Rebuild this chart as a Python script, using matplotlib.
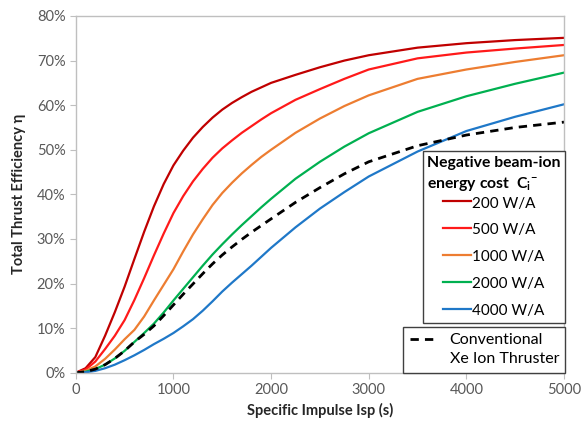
import matplotlib
matplotlib.use("Agg")
import matplotlib.pyplot as plt
from matplotlib.lines import Line2D
from matplotlib.ticker import FuncFormatter

plt.rcParams['font.family'] = ['Lato', 'DejaVu Sans']
plt.rcParams['mathtext.fontset'] = 'custom'
plt.rcParams['mathtext.rm'] = 'Lato'
plt.rcParams['mathtext.bf'] = 'Lato:bold'

# specific impulse (s)
isp = [0, 100, 200, 300, 400, 500, 600, 700, 800, 900,
       1000, 1100, 1200, 1300, 1400, 1500, 1600, 1700, 1800, 1900,
       2000, 2250, 2500, 2750, 3000, 3500, 4000, 4500, 5000]

# total thrust efficiency (%) for each negative beam-ion energy cost
eff_200 = [0, 1.0, 3.5, 8.3, 13.6, 19.3, 25.5, 31.6, 37.3, 42.3,
           46.5, 49.8, 52.7, 55.1, 57.2, 59.0, 60.5, 61.8, 63.0, 64.0,
           65.0, 66.8, 68.5, 70.0, 71.2, 72.9, 73.9, 74.6, 75.1]
eff_500 = [0, 0.7, 2.5, 5.3, 8.3, 11.8, 16.3, 21.2, 26.3, 31.2,
           35.8, 39.6, 42.9, 45.7, 48.2, 50.3, 52.1, 53.8, 55.3, 56.8,
           58.2, 61.2, 63.6, 65.9, 68.0, 70.5, 71.8, 72.7, 73.5]
eff_1000 = [0, 0.4, 1.4, 3.1, 5.2, 7.5, 9.6, 12.6, 16.2, 19.7,
            23.2, 27.2, 31.0, 34.4, 37.6, 40.3, 42.6, 44.7, 46.6, 48.4,
            50.0, 53.8, 57.0, 59.8, 62.2, 65.9, 68.0, 69.7, 71.2]
eff_2000 = [0, 0.2, 0.8, 1.8, 3.2, 4.9, 6.9, 8.9, 11.0, 13.5,
            16.2, 18.8, 21.4, 24.0, 26.5, 28.8, 31.0, 33.1, 35.1, 37.1,
            39.0, 43.5, 47.3, 50.7, 53.7, 58.5, 62.0, 64.8, 67.3]
eff_4000 = [0, 0.1, 0.4, 1.0, 1.8, 2.8, 3.9, 5.1, 6.4, 7.6,
            8.9, 10.4, 12.0, 13.9, 16.0, 18.2, 20.2, 22.1, 24.0, 26.0,
            28.0, 32.6, 36.8, 40.5, 44.0, 49.6, 54.2, 57.4, 60.2]
# conventional Xe ion thruster
eff_xe = [0, 0.2, 0.8, 1.8, 3.2, 4.9, 6.9, 8.6, 10.5, 12.8,
          15.2, 17.6, 19.9, 22.2, 24.4, 26.4, 28.2, 29.9, 31.5, 33.0,
          34.5, 38.2, 41.5, 44.6, 47.3, 50.9, 53.3, 55.0, 56.2]

labels = ['200 W/A', '500 W/A', '1000 W/A', '2000 W/A', '4000 W/A']
colors = ['#c00000', '#ff1a1a', '#ed7d31', '#00b050', '#1f78c8']
series = [eff_200, eff_500, eff_1000, eff_2000, eff_4000]

fig = plt.figure(figsize=(5.84, 4.30), dpi=100)
ax = fig.add_axes([0.1298, 0.1333, 0.836, 0.8295])

handles = []
for y, c, lab in zip(series, colors, labels):
    h, = ax.plot(isp, y, color=c, lw=1.6, label=lab, solid_joinstyle='round')
    handles.append(h)
xe, = ax.plot(isp, eff_xe, color='black', lw=2.0, dashes=(3.0, 2.2))

ax.set_xlim(0, 5000)
ax.set_ylim(0, 80)
ax.set_xticks(range(0, 5001, 1000))
ax.set_yticks(range(0, 81, 10))
ax.yaxis.set_major_formatter(FuncFormatter(lambda v, p: '%d%%' % v))

for s in ax.spines.values():
    s.set_color('#bfbfbf')
    s.set_linewidth(1.0)
ax.tick_params(direction='out', length=4, color='#bfbfbf',
               labelsize=10.5, labelcolor='#595959')

ax.set_xlabel('Specific Impulse Isp (s)', fontsize=10.5, fontweight='bold',
              color='#262626', labelpad=4)
ax.set_ylabel('Total Thrust Efficiency η', fontsize=10.5, fontweight='bold',
              color='#262626', labelpad=8)

# legend for the beam-ion energy cost curves
leg1 = ax.legend(handles=handles, loc='lower right',
                 bbox_to_anchor=(1.003, 0.14), borderaxespad=0,
                 title='Negative beam-ion\nenergy cost  $\\mathbf{C_i}^{\\mathbf{-}}$',
                 title_fontproperties={'weight': 'bold', 'size': 11.3},
                 fontsize=11, frameon=True, fancybox=False,
                 edgecolor='#404040', framealpha=1, handlelength=1.8,
                 handleheight=1.25, handletextpad=0.1, labelspacing=0.7,
                 borderpad=0.3)
leg1.get_title().set_multialignment('left')
leg1.get_title().set_linespacing(1.5)
leg1.get_frame().set_linewidth(1.0)
leg1._legend_box.sep = 0
ax.add_artist(leg1)

# legend for the conventional thruster (second line has no handle)
blank = Line2D([], [], color='none')
leg2 = ax.legend(handles=[xe, blank], labels=['Conventional', 'Xe Ion Thruster'],
                 loc='lower right', bbox_to_anchor=(1.003, 0.0),
                 borderaxespad=0, fontsize=11.5, frameon=True, fancybox=False,
                 edgecolor='#404040', framealpha=1, handlelength=1.6,
                 handletextpad=0.9, labelspacing=0.3, borderpad=0.4)
leg2.get_frame().set_linewidth(1.0)

fig.savefig('out.png', dpi=100)
